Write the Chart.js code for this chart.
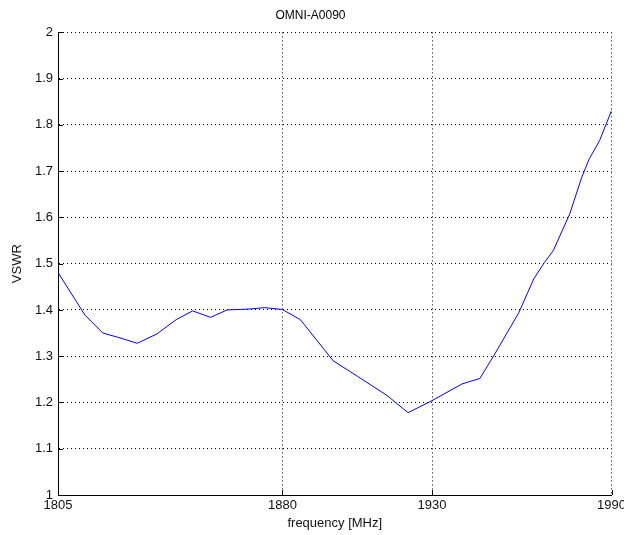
<!DOCTYPE html>
<html>
<head>
<meta charset="utf-8">
<script src="https://cdn.jsdelivr.net/npm/chart.js@4/dist/chart.umd.min.js"></script>
<style>
  html, body { margin: 0; padding: 0; background: #fff; overflow: hidden; }
  /* slightly wider than the window so the last x label is clipped like the original */
  #wrap { width: 629px; height: 535px; position: relative; }
</style>
</head>
<body>
<div id="wrap"><canvas id="vswrChart"></canvas></div>
<script>
// frequency samples (MHz)
const FREQ = [1805, 1814, 1820, 1825, 1831.5, 1838, 1844.5, 1850, 1856, 1861.5, 1869, 1874, 1880,
  1886, 1897, 1905, 1915, 1922, 1930, 1940, 1946, 1951, 1959, 1964, 1967.5, 1970.5, 1976, 1980,
  1982.5, 1986, 1990];
const VSWR = [1.481, 1.389, 1.350, 1.341, 1.328, 1.348, 1.379, 1.398, 1.384, 1.400, 1.402, 1.405, 1.401,
  1.379, 1.290, 1.257, 1.215, 1.178, 1.204, 1.240, 1.252, 1.305, 1.394, 1.467, 1.502, 1.528, 1.607, 1.686,
  1.726, 1.766, 1.831];
const X_TICKS = [1805, 1880, 1930, 1990];
const Y_MIN = 1, Y_MAX = 2, Y_STEP = 0.1;

const FONT = { family: '"Liberation Sans", Arial, sans-serif', size: 13 };

// MATLAB-style short inward tick marks on left and bottom axes
const inwardTicks = {
  id: 'inwardTicks',
  afterDraw(chart) {
    const { ctx, chartArea: a, scales } = chart;
    ctx.save();
    ctx.strokeStyle = '#000';
    ctx.lineWidth = 1;
    ctx.beginPath();
    scales.y.ticks.forEach(t => {
      const y = Math.round(scales.y.getPixelForValue(t.value)) + 0.5;
      ctx.moveTo(a.left, y); ctx.lineTo(a.left + 5, y);
    });
    scales.x.ticks.forEach(t => {
      const x = Math.round(scales.x.getPixelForValue(t.value)) + 0.5;
      ctx.moveTo(x, a.bottom); ctx.lineTo(x, a.bottom - 5);
    });
    ctx.stroke();
    ctx.restore();
  }
};

const ctx = document.getElementById('vswrChart').getContext('2d');
new Chart(ctx, {
  type: 'scatter',
  data: {
    datasets: [{
      data: FREQ.map((f, i) => ({ x: f, y: VSWR[i] })),
      showLine: true,
      borderColor: '#0000ff',
      borderWidth: 1,
      pointRadius: 0,
      tension: 0,
    }]
  },
  options: {
    responsive: true, maintainAspectRatio: false, animation: false,
    layout: { padding: { left: 0, right: 8, top: 0, bottom: 4 } },
    plugins: {
      legend: { display: false },
      tooltip: { enabled: false },
      title: {
        display: true, text: 'OMNI-A0090', color: '#000',
        font: { ...FONT, size: 12, weight: 'normal' },
        padding: { top: 8, bottom: 10 }
      }
    },
    scales: {
      x: {
        type: 'linear', min: FREQ[0], max: FREQ[FREQ.length - 1],
        afterBuildTicks: s => { s.ticks = X_TICKS.map(v => ({ value: v })); },
        afterFit: s => { s.height = 36; },
        ticks: { color: '#111', font: FONT, padding: 3, maxRotation: 0, autoSkip: false,
          callback: v => String(v) },
        grid: { color: '#000', lineWidth: 1, drawTicks: false },
        border: { color: '#000', width: 1, dash: [1, 3] },
        title: { display: true, text: 'frequency [MHz]', color: '#111', font: FONT, padding: { top: 0, bottom: 0 } }
      },
      y: {
        min: Y_MIN, max: Y_MAX,
        ticks: { stepSize: Y_STEP, color: '#111', font: FONT, padding: 5,
          callback: v => String(+v.toFixed(1)) },
        afterFit: s => { s.width = 58; },
        grid: { color: '#000', lineWidth: 1, drawTicks: false },
        border: { color: '#000', width: 1, dash: [1, 3] },
        title: { display: true, text: 'VSWR', color: '#111', font: FONT, padding: { top: 10, bottom: 0 } }
      }
    }
  },
  plugins: [inwardTicks]
});
</script>
</body>
</html>
